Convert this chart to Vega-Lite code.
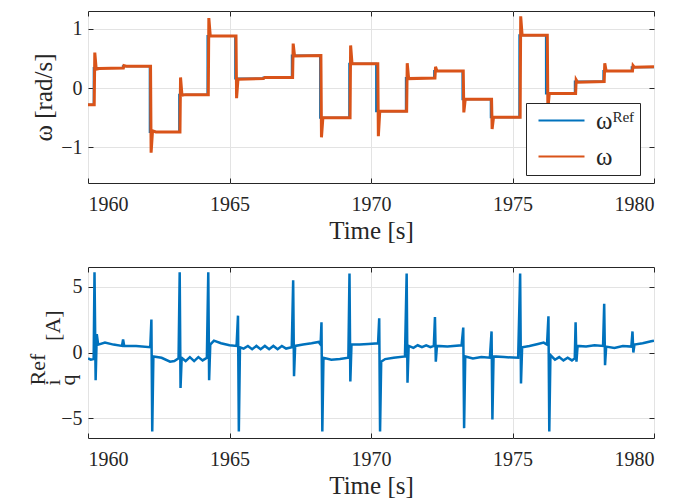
{
  "$schema": "https://vega.github.io/schema/vega-lite/v6.json",
  "background": "white",
  "padding": {"left": 25, "top": 10, "right": 5, "bottom": 0},
  "spacing": 22,
  "config": {
    "font": "Liberation Serif",
    "style": {"guide-label": {"font": "Liberation Serif"}, "guide-title": {"font": "Liberation Serif"}},
    "view": {"stroke": "#262626", "strokeWidth": 1},
    "axis": {
      "labelFont": "Liberation Serif", "titleFont": "Liberation Serif",
      "labelFontSize": 20, "labelColor": "#262626",
      "titleFontSize": 25, "titleFontWeight": "normal", "titleColor": "#262626",
      "gridColor": "#e3e3e3", "tickColor": "#262626", "domain": false,
      "tickSize": -5
    },
    "axisX": {"labelPadding": 16, "titlePadding": 4},
    "axisY": {"labelPadding": 11},
    "legend": {"labelFont": "Liberation Serif"}
  },
  "datasets": {
    "ref": [
      {"t": 1960, "v": -0.28}, {"t": 1960.2, "v": -0.28}, {"t": 1960.201, "v": 0.34}, {"t": 1961.23, "v": 0.34}, {"t": 1961.231, "v": 0.37},
      {"t": 1962.18, "v": 0.37}, {"t": 1962.181, "v": -0.74}, {"t": 1963.22, "v": -0.74}, {"t": 1963.221, "v": -0.11},
      {"t": 1964.22, "v": -0.11}, {"t": 1964.221, "v": 0.88}, {"t": 1965.2, "v": 0.88}, {"t": 1965.201, "v": 0.16},
      {"t": 1966.2, "v": 0.16}, {"t": 1966.201, "v": 0.18}, {"t": 1967.2, "v": 0.18}, {"t": 1967.201, "v": 0.55},
      {"t": 1968.2, "v": 0.55}, {"t": 1968.201, "v": -0.5}, {"t": 1969.23, "v": -0.5}, {"t": 1969.231, "v": 0.41},
      {"t": 1970.18, "v": 0.41}, {"t": 1970.181, "v": -0.39}, {"t": 1971.23, "v": -0.39}, {"t": 1971.231, "v": 0.17},
      {"t": 1972.23, "v": 0.17}, {"t": 1972.231, "v": 0.29}, {"t": 1973.23, "v": 0.29}, {"t": 1973.231, "v": -0.19},
      {"t": 1974.23, "v": -0.19}, {"t": 1974.231, "v": -0.49}, {"t": 1975.24, "v": -0.49}, {"t": 1975.241, "v": 0.89},
      {"t": 1976.18, "v": 0.89}, {"t": 1976.181, "v": -0.09}, {"t": 1977.2, "v": -0.09}, {"t": 1977.201, "v": 0.11},
      {"t": 1978.21, "v": 0.11}, {"t": 1978.211, "v": 0.29}, {"t": 1979.21, "v": 0.29}, {"t": 1979.211, "v": 0.35},
      {"t": 1980, "v": 0.35}
    ],
    "omega": [
      {"t": 1960, "v": -0.28}, {"t": 1960.22, "v": -0.28}, {"t": 1960.24, "v": 0.6}, {"t": 1960.29, "v": 0.32}, {"t": 1960.4, "v": 0.33},
      {"t": 1961.25, "v": 0.34}, {"t": 1961.27, "v": 0.38}, {"t": 1961.35, "v": 0.37}, {"t": 1962.21, "v": 0.37},
      {"t": 1962.23, "v": -1.09}, {"t": 1962.28, "v": -0.72}, {"t": 1962.4, "v": -0.74}, {"t": 1963.25, "v": -0.74},
      {"t": 1963.27, "v": 0.18}, {"t": 1963.32, "v": -0.12}, {"t": 1963.45, "v": -0.11}, {"t": 1964.25, "v": -0.11},
      {"t": 1964.27, "v": 1.18}, {"t": 1964.32, "v": 0.88}, {"t": 1965.23, "v": 0.88}, {"t": 1965.25, "v": -0.17},
      {"t": 1965.3, "v": 0.15}, {"t": 1966.2, "v": 0.16}, {"t": 1966.25, "v": 0.18}, {"t": 1967.23, "v": 0.18},
      {"t": 1967.25, "v": 0.75}, {"t": 1967.3, "v": 0.54}, {"t": 1968.23, "v": 0.55}, {"t": 1968.25, "v": -0.83},
      {"t": 1968.3, "v": -0.5}, {"t": 1969.26, "v": -0.5}, {"t": 1969.28, "v": 0.72}, {"t": 1969.33, "v": 0.41},
      {"t": 1970.24, "v": 0.41}, {"t": 1970.26, "v": -0.81}, {"t": 1970.31, "v": -0.39}, {"t": 1971.26, "v": -0.39},
      {"t": 1971.28, "v": 0.42}, {"t": 1971.33, "v": 0.16}, {"t": 1972.26, "v": 0.17}, {"t": 1972.28, "v": 0.36},
      {"t": 1972.33, "v": 0.29}, {"t": 1973.26, "v": 0.29}, {"t": 1973.28, "v": -0.41}, {"t": 1973.33, "v": -0.19},
      {"t": 1974.26, "v": -0.19}, {"t": 1974.28, "v": -0.69}, {"t": 1974.33, "v": -0.49}, {"t": 1975.27, "v": -0.49},
      {"t": 1975.29, "v": 1.21}, {"t": 1975.34, "v": 0.89}, {"t": 1976.23, "v": 0.89}, {"t": 1976.25, "v": -0.35},
      {"t": 1976.3, "v": -0.09}, {"t": 1977.23, "v": -0.09}, {"t": 1977.25, "v": 0.14}, {"t": 1977.3, "v": 0.1},
      {"t": 1978.24, "v": 0.11}, {"t": 1978.26, "v": 0.42}, {"t": 1978.31, "v": 0.29}, {"t": 1979.24, "v": 0.29},
      {"t": 1979.26, "v": 0.38}, {"t": 1979.31, "v": 0.35}, {"t": 1980, "v": 0.36}
    ],
    "iq": [
      {"t": 1960.0, "i": -0.45}, {"t": 1960.1, "i": -0.55}, {"t": 1960.2, "i": -0.5}, {"t": 1960.23, "i": 6.1}, {"t": 1960.27, "i": -2.1},
      {"t": 1960.31, "i": 1.4}, {"t": 1960.36, "i": 0.6}, {"t": 1960.6, "i": 0.75}, {"t": 1960.9, "i": 0.6}, {"t": 1961.2, "i": 0.5},
      {"t": 1961.24, "i": 1.0}, {"t": 1961.28, "i": 0.5}, {"t": 1961.7, "i": 0.5}, {"t": 1962.2, "i": 0.4},
      {"t": 1962.24, "i": 2.5}, {"t": 1962.27, "i": -6.0}, {"t": 1962.31, "i": -0.3}, {"t": 1962.6, "i": -0.4}, {"t": 1962.9, "i": -0.7},
      {"t": 1963.05, "i": -0.65}, {"t": 1963.2, "i": -0.45},
      {"t": 1963.24, "i": 6.1}, {"t": 1963.27, "i": -2.7}, {"t": 1963.31, "i": -0.4}, {"t": 1963.45, "i": -0.65}, {"t": 1963.6, "i": -0.35},
      {"t": 1963.75, "i": -0.65}, {"t": 1963.9, "i": -0.35}, {"t": 1964.05, "i": -0.6}, {"t": 1964.2, "i": -0.4},
      {"t": 1964.25, "i": 6.1}, {"t": 1964.28, "i": -2.1}, {"t": 1964.32, "i": 0.6}, {"t": 1964.45, "i": 0.9}, {"t": 1964.7, "i": 0.7},
      {"t": 1965.0, "i": 0.55}, {"t": 1965.25, "i": 0.5},
      {"t": 1965.3, "i": 2.8}, {"t": 1965.33, "i": -6.0}, {"t": 1965.37, "i": 0.4}, {"t": 1965.5, "i": 0.3}, {"t": 1965.65, "i": 0.5},
      {"t": 1965.8, "i": 0.25}, {"t": 1965.95, "i": 0.5}, {"t": 1966.1, "i": 0.25}, {"t": 1966.25, "i": 0.5}, {"t": 1966.4, "i": 0.25},
      {"t": 1966.55, "i": 0.5}, {"t": 1966.7, "i": 0.25}, {"t": 1966.85, "i": 0.5}, {"t": 1967.0, "i": 0.3}, {"t": 1967.2, "i": 0.4},
      {"t": 1967.25, "i": 5.5}, {"t": 1967.28, "i": -1.8}, {"t": 1967.32, "i": 0.5}, {"t": 1967.6, "i": 0.6}, {"t": 1967.9, "i": 0.7},
      {"t": 1968.15, "i": 0.8}, {"t": 1968.22, "i": 0.6},
      {"t": 1968.25, "i": 2.3}, {"t": 1968.28, "i": -6.0}, {"t": 1968.32, "i": -0.4}, {"t": 1968.6, "i": -0.55}, {"t": 1968.9, "i": -0.5},
      {"t": 1969.2, "i": -0.4},
      {"t": 1969.24, "i": 6.0}, {"t": 1969.27, "i": -2.2}, {"t": 1969.31, "i": 0.6}, {"t": 1969.6, "i": 0.6}, {"t": 1969.9, "i": 0.65},
      {"t": 1970.25, "i": 0.7},
      {"t": 1970.29, "i": 2.6}, {"t": 1970.32, "i": -6.0}, {"t": 1970.36, "i": -0.7}, {"t": 1970.5, "i": -0.5}, {"t": 1970.8, "i": -0.4},
      {"t": 1971.2, "i": -0.3},
      {"t": 1971.26, "i": 6.0}, {"t": 1971.29, "i": -2.3}, {"t": 1971.33, "i": 0.5}, {"t": 1971.5, "i": 0.35}, {"t": 1971.65, "i": 0.55},
      {"t": 1971.8, "i": 0.4}, {"t": 1971.95, "i": 0.55}, {"t": 1972.1, "i": 0.4}, {"t": 1972.22, "i": 0.5},
      {"t": 1972.26, "i": 2.7}, {"t": 1972.29, "i": -0.7}, {"t": 1972.33, "i": 0.5}, {"t": 1972.7, "i": 0.45}, {"t": 1973.2, "i": 0.55},
      {"t": 1973.26, "i": 1.9}, {"t": 1973.29, "i": -5.75}, {"t": 1973.33, "i": -0.3}, {"t": 1973.6, "i": -0.45}, {"t": 1973.9, "i": -0.35},
      {"t": 1974.2, "i": -0.4},
      {"t": 1974.26, "i": 1.6}, {"t": 1974.29, "i": -5.1}, {"t": 1974.33, "i": -0.3}, {"t": 1974.7, "i": -0.35}, {"t": 1975.2, "i": -0.4},
      {"t": 1975.27, "i": 6.0}, {"t": 1975.3, "i": -2.35}, {"t": 1975.34, "i": 0.4}, {"t": 1975.6, "i": 0.5}, {"t": 1975.9, "i": 0.65},
      {"t": 1976.1, "i": 0.75}, {"t": 1976.22, "i": 0.6},
      {"t": 1976.27, "i": 2.75}, {"t": 1976.3, "i": -6.0}, {"t": 1976.34, "i": -0.2}, {"t": 1976.5, "i": -0.55}, {"t": 1976.65, "i": -0.35},
      {"t": 1976.8, "i": -0.6}, {"t": 1976.95, "i": -0.4}, {"t": 1977.1, "i": -0.6}, {"t": 1977.2, "i": -0.45},
      {"t": 1977.23, "i": 2.3}, {"t": 1977.26, "i": -0.7}, {"t": 1977.3, "i": 0.5}, {"t": 1977.6, "i": 0.45}, {"t": 1977.9, "i": 0.55},
      {"t": 1978.2, "i": 0.5},
      {"t": 1978.24, "i": 3.7}, {"t": 1978.27, "i": -0.96}, {"t": 1978.31, "i": 0.45}, {"t": 1978.6, "i": 0.35}, {"t": 1978.9, "i": 0.5},
      {"t": 1979.2, "i": 0.45},
      {"t": 1979.24, "i": 1.6}, {"t": 1979.27, "i": 0.0}, {"t": 1979.31, "i": 0.6}, {"t": 1979.6, "i": 0.7}, {"t": 1979.9, "i": 0.85},
      {"t": 1980, "i": 0.9}
    ]
  },
  "vconcat": [
    {
      "width": 566, "height": 172,
      "resolve": {"axis": {"x": "independent", "y": "independent"}},
      "layer": [
        {
          "data": {"name": "ref"},
          "mark": {"type": "line", "strokeWidth": 2, "clip": true},
          "encoding": {
            "x": {"field": "t", "type": "quantitative", "scale": {"domain": [1960, 1980], "nice": false},
                  "axis": {"values": [1960, 1965, 1970, 1975, 1980], "title": "Time [s]", "format": "d", "labelFont": "Liberation Serif"}},
            "y": {"field": "v", "type": "quantitative", "scale": {"domain": [-1.6, 1.3], "nice": false, "zero": false},
                  "axis": {"values": [-1, 0, 1], "title": "ω [rad/s]", "format": "d", "labelFont": "Liberation Serif"}},
            "color": {"datum": "ωᴿᵉᶠ", "type": "nominal",
              "scale": {"domain": ["ωᴿᵉᶠ", "ω"], "range": ["#0072BD", "#D95319"]},
              "legend": {"orient": "none", "legendX": 438, "legendY": 92, "title": null,
                "fillColor": "white", "strokeColor": "#262626", "padding": 5, "rowPadding": 10,
                "symbolType": "M-4.6,0H4.6", "symbolSize": 100, "symbolStrokeWidth": 2,
                "symbolOffset": 18, "labelOffset": 22,
                "labelFontSize": 25, "labelFont": "Liberation Serif", "labelColor": "#262626"}}
          }
        },
        {
          "data": {"name": "omega"},
          "mark": {"type": "line", "strokeWidth": 3, "clip": true},
          "encoding": {
            "x": {"field": "t", "type": "quantitative",
                  "axis": {"orient": "top", "values": [1960, 1965, 1970, 1975, 1980], "labels": false, "grid": false, "title": null}},
            "y": {"field": "v", "type": "quantitative",
                  "axis": {"orient": "right", "values": [-1, 0, 1], "labels": false, "grid": false, "title": null}},
            "color": {"datum": "ω", "type": "nominal"}
          }
        }
      ]
    },
    {
      "width": 566, "height": 171,
      "data": {"name": "iq"},
      "resolve": {"axis": {"x": "independent", "y": "independent"}},
      "layer": [
        {
          "mark": {"type": "line", "strokeWidth": 2.5, "color": "#0072BD", "clip": true},
          "encoding": {
            "x": {"field": "t", "type": "quantitative", "scale": {"domain": [1960, 1980], "nice": false},
                  "axis": {"values": [1960, 1965, 1970, 1975, 1980], "title": "Time [s]", "format": "d", "labelFont": "Liberation Serif"}},
            "y": {"field": "i", "type": "quantitative", "scale": {"domain": [-6.5, 6.5], "nice": false},
                  "axis": {"values": [-5, 0, 5], "labelFont": "Liberation Serif",
                           "title": ["\u00a0\u00a0\u00a0Ref", "i\u00a0\u00a0\u00a0\u00a0\u00a0\u00a0\u00a0[A]", "\u00a0\u00a0\u00a0q"],
                           "titleFontSize": 22, "titleLineHeight": 15, "titleAlign": "left", "titleAngle": -90, "titleBaseline": "middle",
                           "titleX": -51, "titleY": 118}}
          }
        },
        {
          "mark": {"type": "line", "opacity": 0, "clip": true},
          "encoding": {
            "x": {"field": "t", "type": "quantitative",
                  "axis": {"orient": "top", "values": [1960, 1965, 1970, 1975, 1980], "labels": false, "grid": false, "title": null}},
            "y": {"field": "i", "type": "quantitative",
                  "axis": {"orient": "right", "values": [-5, 0, 5], "labels": false, "grid": false, "title": null}}
          }
        }
      ]
    }
  ]
}
